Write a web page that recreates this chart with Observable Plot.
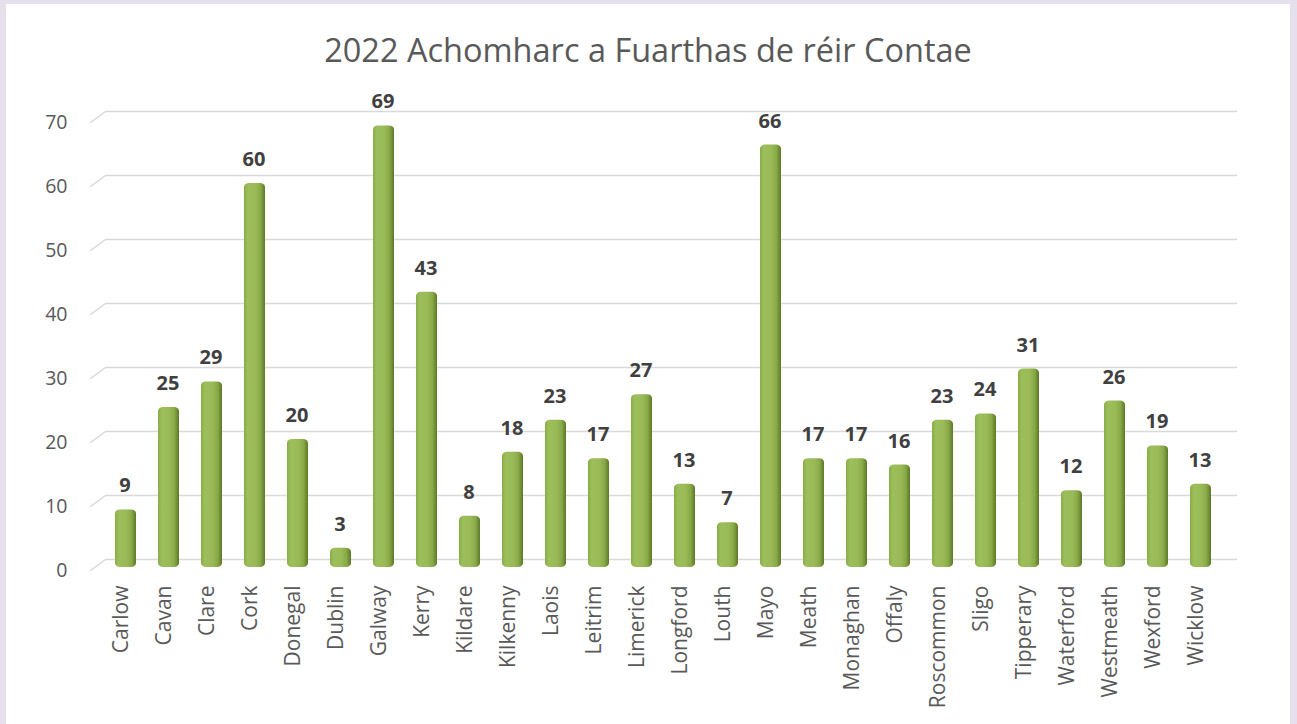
<!DOCTYPE html>
<html>
<head>
<meta charset="utf-8">
<script src="https://cdn.jsdelivr.net/npm/d3@7"></script>
<script src="https://cdn.jsdelivr.net/npm/@observablehq/plot@0.6"></script>
<style>
  html, body { margin: 0; padding: 0; background: #e5e0ec; width: 1297px; height: 724px; overflow: hidden; }
  #panel { position: absolute; left: 6px; top: 4px; width: 1284px; height: 720px; background: #ffffff; }
  #title { height: 70px; line-height: 92px; text-align: center; font-family: "Open Sans", sans-serif; font-size: 32.5px; color: #595959; white-space: nowrap; }
  #chart svg { display: block; }
</style>
</head>
<body>
<div id="panel">
  <div id="title">2022 Achomharc a Fuarthas de réir Contae</div>
  <div id="chart"></div>
</div>
<script>
const counties = ["Carlow","Cavan","Clare","Cork","Donegal","Dublin","Galway","Kerry","Kildare","Kilkenny","Laois","Leitrim","Limerick","Longford","Louth","Mayo","Meath","Monaghan","Offaly","Roscommon","Sligo","Tipperary","Waterford","Westmeath","Wexford","Wicklow"];
const appeals = [9,25,29,60,20,3,69,43,8,18,23,17,27,13,7,66,17,17,16,23,24,31,12,26,19,13];
const yTicks = [0,10,20,30,40,50,60,70];

const data = counties.map((c, i) => ({county: c, value: appeals[i]}));
const font = "Open Sans, sans-serif";

const defs = () => {
  const d = d3.create("svg:defs");
  const g = d.append("linearGradient").attr("id", "barGrad").attr("x1", "0").attr("x2", "1").attr("y1", "0").attr("y2", "0");
  [["0%", "#8aac48"], ["18%", "#9dbf5b"], ["55%", "#99ba57"], ["78%", "#8aaa49"], ["90%", "#728f35"], ["100%", "#5c7628"]]
    .forEach(([o, c]) => g.append("stop").attr("offset", o).attr("stop-color", c));
  return d.node();
};

const chart = Plot.plot({
  width: 1284,
  height: 650,
  marginLeft: 84,
  marginRight: 53,
  marginTop: 20,
  marginBottom: 154,
  style: {fontFamily: font, background: "transparent", overflow: "visible"},
  x: {domain: counties, range: [91.5, 1223], paddingInner: 0.52, paddingOuter: 0.26},
  y: {domain: [0, 70], range: [493, 45]},
  marks: [
    defs,
    Plot.ruleY(yTicks, {dy: -8, insetLeft: 15, stroke: "#d9d9d9", strokeWidth: 1.5}),
    Plot.vector(yTicks, {
      y: d => d, frameAnchor: "left", dy: 3, length: 18.6, rotate: 53.7, anchor: "start",
      stroke: "#d9d9d9", strokeWidth: 1.5,
      shape: {draw(context, l) { context.moveTo(0, 0); context.lineTo(0, -l); }}
    }),
    Plot.barY(data, {x: "county", y: "value", fill: "url(#barGrad)", rx: 5, ry: 4}),
    Plot.text(data, {x: "county", y: "value", text: d => String(d.value), dy: -24, dx: -1, fontWeight: "bold", fontSize: 20, fill: "#404040"}),
    Plot.axisY(yTicks, {anchor: "left", tickSize: 0, tickPadding: 23, fontSize: 19.5, dy: 3, color: "#595959", label: null}),
    Plot.axisX({anchor: "bottom", tickSize: 0, tickPadding: 15, tickRotate: -90, fontSize: 21, dx: -5, color: "#595959", label: null})
  ]
});
document.getElementById("chart").appendChild(chart);
</script>
</body>
</html>
